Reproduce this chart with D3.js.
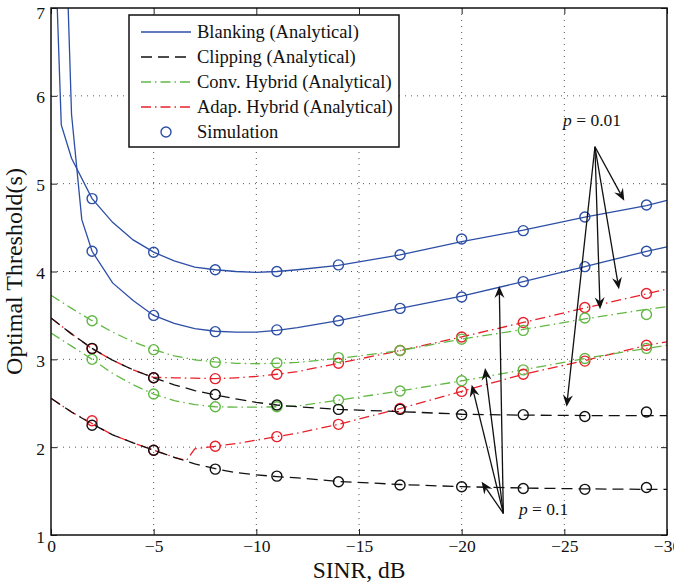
<!DOCTYPE html>
<html>
<head>
<meta charset="utf-8">
<script src="https://cdn.jsdelivr.net/npm/d3@7"></script>
<style>
  body { margin: 0; background: #fff; }
  svg { display: block; }
  text { font-family: "Liberation Serif", "Times New Roman", serif; fill: #111; }
</style>
</head>
<body>
<div id="chart"></div>
<script>
// Taille et marges
const width = 674;
const height = 587;
const margin = { top: 8, right: 7, bottom: 52, left: 51 };

// Axes
const xTicks = [0, -5, -10, -15, -20, -25, -30];
const yTicks = [1, 2, 3, 4, 5, 6, 7];

// Courbes analytiques (grille SINR commune)
const anaX = [0, -1, -2, -3, -4, -5, -6, -7, -8, -9, -10, -11, -12, -14, -17, -20, -23, -26, -29, -30];

const blankHiX = [0, -0.5, -1, -2, -3, -4, -5, -6, -7, -8, -9, -10, -11, -12, -14, -17, -20, -23, -26, -29, -30];
const blankHiY = [9.07, 5.67, 5.29, 4.83, 4.56, 4.36, 4.22, 4.12, 4.05, 4.02, 4.00, 3.99, 4.00, 4.02, 4.07, 4.19, 4.34, 4.47, 4.62, 4.75, 4.81];
const blankLoX = [-0.5, -1, -1.5, -2, -3, -4, -5, -6, -7, -8, -9, -10, -11, -12, -14, -17, -20, -23, -26, -29, -30];
const blankLoY = [9.5, 5.79, 4.59, 4.23, 3.87, 3.67, 3.50, 3.41, 3.35, 3.32, 3.31, 3.31, 3.33, 3.36, 3.44, 3.58, 3.72, 3.885, 4.055, 4.23, 4.28];

const clipHiY = [3.47, 3.29, 3.125, 2.99, 2.88, 2.79, 2.71, 2.645, 2.595, 2.55, 2.51, 2.48, 2.46, 2.43, 2.405, 2.375, 2.365, 2.36, 2.36, 2.36];
const clipLoY = [2.556, 2.40, 2.265, 2.14, 2.05, 1.965, 1.885, 1.81, 1.755, 1.71, 1.685, 1.665, 1.65, 1.61, 1.575, 1.55, 1.535, 1.525, 1.52, 1.52];
const convHiY = [3.73, 3.58, 3.44, 3.31, 3.20, 3.11, 3.04, 2.995, 2.97, 2.955, 2.95, 2.955, 2.965, 3.01, 3.10, 3.23, 3.34, 3.46, 3.57, 3.60];
const convLoY = [3.30, 3.15, 3.00, 2.84, 2.71, 2.605, 2.53, 2.485, 2.46, 2.455, 2.455, 2.46, 2.47, 2.535, 2.64, 2.755, 2.88, 3.01, 3.125, 3.16];
const adapHiY = [3.47, 3.29, 3.12, 2.99, 2.88, 2.795, 2.79, 2.785, 2.78, 2.79, 2.805, 2.83, 2.86, 2.955, 3.10, 3.255, 3.42, 3.585, 3.745, 3.80];
const adapLoX = [0, -1, -2, -3, -4, -5, -6, -6.6, -7, -8, -9, -10, -11, -12, -14, -17, -20, -23, -26, -29, -30];
const adapLoY = [2.556, 2.40, 2.27, 2.14, 2.05, 1.965, 1.885, 1.85, 1.98, 2.01, 2.04, 2.08, 2.12, 2.16, 2.26, 2.44, 2.635, 2.83, 2.985, 3.16, 3.20];

// Points de simulation
const simX = [-2, -5, -8, -11, -14, -17, -20, -23, -26, -29];
const blankHiSim = [4.83, 4.22, 4.02, 4.00, 4.075, 4.19, 4.37, 4.465, 4.62, 4.757];
const blankLoSim = [4.23, 3.50, 3.315, 3.335, 3.44, 3.58, 3.71, 3.885, 4.055, 4.23];
const clipHiSim = [3.125, 2.79, 2.60, 2.48, 2.43, 2.43, 2.37, 2.37, 2.35, 2.40];
const clipLoSim = [2.25, 1.965, 1.75, 1.67, 1.607, 1.57, 1.55, 1.53, 1.52, 1.54];
const convHiSim = [3.44, 3.11, 2.965, 2.96, 3.02, 3.10, 3.23, 3.33, 3.47, 3.51];
const convLoSim = [3.00, 2.605, 2.46, 2.46, 2.537, 2.64, 2.757, 2.88, 3.01, 3.125];
const adapHiSim = [3.12, 2.79, 2.78, 2.83, 2.955, 3.10, 3.255, 3.42, 3.59, 3.75];
const adapLoSim = [2.30, 1.965, 2.01, 2.12, 2.26, 2.44, 2.635, 2.83, 2.98, 3.16];

// Légende
const legendLabels = ['Blanking (Analytical)', 'Clipping (Analytical)', 'Conv. Hybrid (Analytical)', 'Adap. Hybrid (Analytical)', 'Simulation'];

// Flèches d'annotation [x, y] en unités des données
const arrowBase01 = [-26.49, 5.42];
const arrowTips01 = [[-27.92, 4.806], [-27.66, 3.797], [-26.74, 3.57], [-25.11, 2.46]];
const arrowBase1 = [-22.03, 1.247];
const arrowTips1 = [[-20.97, 1.607], [-20.49, 2.71], [-21.14, 2.90], [-21.83, 3.835]];

// Styles
const blue = '#2c4ea5', black = '#111111', green = '#62b845', red = '#e8202a';
const styles = {
  blank: { color: blue, dash: null },
  clip: { color: black, dash: '11,6' },
  conv: { color: green, dash: '10,4,1.5,4' },
  adap: { color: red, dash: '10,4,1.5,4' }
};

const zip = (xs, ys) => xs.map((x, i) => [x, ys[i]]);

const series = [
  { key: 'adap', ana: [zip(adapLoX, adapLoY), zip(anaX, adapHiY)], sim: [adapLoSim, adapHiSim] },
  { key: 'conv', ana: [zip(anaX, convLoY), zip(anaX, convHiY)], sim: [convLoSim, convHiSim] },
  { key: 'clip', ana: [zip(anaX, clipLoY), zip(anaX, clipHiY)], sim: [clipLoSim, clipHiSim] },
  { key: 'blank', ana: [zip(blankLoX, blankLoY), zip(blankHiX, blankHiY)], sim: [blankLoSim, blankHiSim] }
];

const svg = d3.select('#chart').append('svg')
  .attr('width', width)
  .attr('height', height);

const x = d3.scaleLinear().domain([0, -30]).range([margin.left, width - margin.right]);
const y = d3.scaleLinear().domain([1, 7]).range([height - margin.bottom, margin.top]);

const x0 = x.range()[0], x1 = x.range()[1];
const y0 = y.range()[0], y1 = y.range()[1];

// Grille pointillée
const grid = svg.append('g').attr('stroke', '#555').attr('stroke-width', 1).attr('stroke-dasharray', '1,5');
grid.selectAll('.gx').data(xTicks.slice(1, -1)).enter().append('line')
  .attr('x1', d => x(d)).attr('x2', d => x(d)).attr('y1', y1).attr('y2', y0);
grid.selectAll('.gy').data(yTicks.slice(1, -1)).enter().append('line')
  .attr('x1', x0).attr('x2', x1).attr('y1', d => y(d)).attr('y2', d => y(d));

// Axes (ticks vers l'intérieur sur les quatre côtés)
const fmt = d => d < 0 ? '\u2212' + Math.abs(d) : String(d);
const tickLen = 6;

const axB = svg.append('g').attr('transform', `translate(0,${y0})`)
  .call(d3.axisBottom(x).tickValues(xTicks).tickFormat(fmt).tickSizeInner(-tickLen).tickSizeOuter(0).tickPadding(5));
const axT = svg.append('g').attr('transform', `translate(0,${y1})`)
  .call(d3.axisTop(x).tickValues(xTicks).tickFormat('').tickSizeInner(-tickLen).tickSizeOuter(0));
const axL = svg.append('g').attr('transform', `translate(${x0},0)`)
  .call(d3.axisLeft(y).tickValues(yTicks).tickFormat(d3.format('d')).tickSizeInner(-tickLen).tickSizeOuter(0).tickPadding(6));
const axR = svg.append('g').attr('transform', `translate(${x1},0)`)
  .call(d3.axisRight(y).tickValues(yTicks).tickFormat('').tickSizeInner(-tickLen).tickSizeOuter(0));

[axB, axT, axL, axR].forEach(a => {
  a.select('.domain').remove();
  a.selectAll('.tick line').attr('stroke', '#222').attr('stroke-width', 1);
  a.selectAll('text').style('font-family', '"Liberation Serif", serif').style('font-size', '17.5px').attr('fill', '#222');
});
// le "7" du haut est légèrement descendu comme dans l'original
axL.selectAll('.tick text').attr('dy', d => d === 7 ? '0.6em' : '0.4em');

// Zone de tracé avec découpage
svg.append('clipPath').attr('id', 'plot-clip').append('rect')
  .attr('x', x0).attr('y', y1).attr('width', x1 - x0).attr('height', y0 - y1);

const plot = svg.append('g').attr('clip-path', 'url(#plot-clip)');
const line = d3.line().x(d => x(d[0])).y(d => y(d[1]));

series.forEach(s => {
  s.ana.forEach(pts => {
    plot.append('path')
      .attr('d', line(pts))
      .attr('fill', 'none')
      .attr('stroke', styles[s.key].color)
      .attr('stroke-width', 1.3)
      .attr('stroke-dasharray', styles[s.key].dash);
  });
});

series.forEach(s => {
  s.sim.forEach(vals => {
    plot.selectAll(null).data(zip(simX, vals)).enter().append('circle')
      .attr('cx', d => x(d[0]))
      .attr('cy', d => y(d[1]))
      .attr('r', 5)
      .attr('fill', 'none')
      .attr('stroke', styles[s.key].color)
      .attr('stroke-width', 1.4);
  });
});

// Flèches
function arrow(from, to) {
  const [ax, ay] = [x(from[0]), y(from[1])];
  const [bx, by] = [x(to[0]), y(to[1])];
  const ang = Math.atan2(by - ay, bx - ax);
  const len = 12, half = 5, notch = 8;
  const ux = Math.cos(ang), uy = Math.sin(ang);
  const px = -uy, py = ux;
  const nx = bx - ux * notch, ny = by - uy * notch;
  svg.append('line')
    .attr('x1', ax).attr('y1', ay).attr('x2', nx).attr('y2', ny)
    .attr('stroke', '#111').attr('stroke-width', 1.3);
  const bxl = bx - ux * len, byl = by - uy * len;
  svg.append('path')
    .attr('d', `M${bx},${by}L${bxl + px * half},${byl + py * half}L${nx},${ny}L${bxl - px * half},${byl - py * half}Z`)
    .attr('fill', '#111');
}
arrowTips01.forEach(t => arrow(arrowBase01, t));
arrowTips1.forEach(t => arrow(arrowBase1, t));

// Textes d'annotation
function pLabel(pos, val) {
  const t = svg.append('text')
    .attr('x', x(pos[0])).attr('y', y(pos[1]))
    .style('font-size', '17.5px');
  t.append('tspan').style('font-style', 'italic').text('p');
  t.append('tspan').text(' = ' + val);
}
pLabel([-24.94, 5.657], '0.01');
pLabel([-22.79, 1.227], '0.1');

// Cadre
svg.append('rect')
  .attr('x', x0).attr('y', y1).attr('width', x1 - x0).attr('height', y0 - y1)
  .attr('fill', 'none').attr('stroke', '#111').attr('stroke-width', 1.5);

// Légende
const lg = svg.append('g');
lg.append('rect')
  .attr('x', 129).attr('y', 15).attr('width', 270).attr('height', 132)
  .attr('fill', '#fff').attr('stroke', '#111').attr('stroke-width', 1.5);
const legendKeys = ['blank', 'clip', 'conv', 'adap', 'sim'];
legendKeys.forEach((k, i) => {
  const cy = 32 + i * 25;
  if (k === 'sim') {
    lg.append('circle').attr('cx', 166).attr('cy', cy).attr('r', 5)
      .attr('fill', 'none').attr('stroke', blue).attr('stroke-width', 1.4);
  } else {
    lg.append('line').attr('x1', 141).attr('x2', 191).attr('y1', cy).attr('y2', cy)
      .attr('stroke', styles[k].color).attr('stroke-width', 1.3)
      .attr('stroke-dasharray', styles[k].dash);
  }
  lg.append('text').attr('x', 197).attr('y', cy + 6)
    .style('font-size', '18.5px').text(legendLabels[i]);
});

// Titres des axes
svg.append('text')
  .attr('x', (x0 + x1) / 2).attr('y', 578)
  .attr('text-anchor', 'middle').style('font-size', '23.5px')
  .text('SINR, dB');
svg.append('text')
  .attr('transform', `translate(22,${(y0 + y1) / 2}) rotate(-90)`)
  .attr('text-anchor', 'middle').style('font-size', '24px')
  .text('Optimal Threshold(s)');
</script>
</body>
</html>
